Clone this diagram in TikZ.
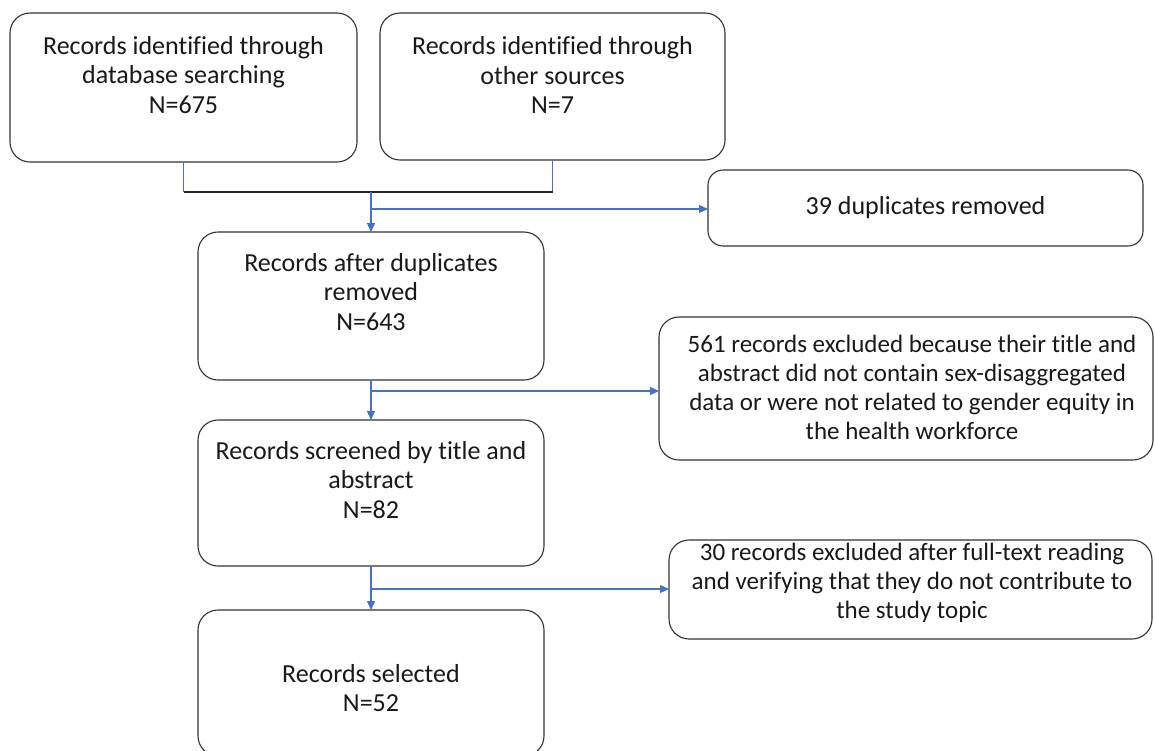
\documentclass[tikz,border=0pt]{standalone}
\usepackage{fontspec}
\setmainfont[Ligatures=NoCommon]{Carlito}
\usetikzlibrary{arrows.meta}
\definecolor{linkblue}{HTML}{4472C4}
\definecolor{boxline}{HTML}{333333}
\begin{document}
\begin{tikzpicture}[x=1pt,y=-1pt,
  box/.style={draw=boxline, line width=1.1pt, rounded corners=20pt, inner sep=0pt, outer sep=0pt},
  smallbox/.style={box, rounded corners=15pt},
  txt/.style={align=center, font=\fontsize{26}{29.5}\selectfont, inner sep=0pt, text=black!90},
  stxt/.style={txt, font=\fontsize{25}{29}\selectfont},
  conn/.style={draw=linkblue, line width=1.1pt},
  bar/.style={draw=black!85, line width=1.1pt},
  arr/.style={conn, -{Triangle[length=9pt,width=8pt]}}]
\useasboundingbox (0,0) rectangle (1155,750);
\clip (0,0) rectangle (1155,750);

% boxes
\node[box, minimum width=347pt, minimum height=149pt] (b1) at (183.5,87.5) {};
\node[box, minimum width=345pt, minimum height=147pt] (b2) at (552.5,86.5) {};
\node[smallbox, minimum width=435pt, minimum height=76pt] (d1) at (925.5,208) {};
\node[box, minimum width=346pt, minimum height=148pt] (b3) at (371,306) {};
\node[box, minimum width=494pt, minimum height=143pt] (d2) at (906,388.5) {};
\node[box, minimum width=346pt, minimum height=146pt] (b4) at (371,493) {};
\node[box, minimum width=483pt, minimum height=99pt] (d3) at (910.5,589.5) {};
\node[box, minimum width=346pt, minimum height=146pt] (b5) at (371,683) {};

% texts
\node[txt] (t1) at (183.5,75) {Records identified through\\database searching\\N=675};
\node[txt] (t2) at (552.5,75) {Records identified through\\other sources\\N=7};
\node[txt] (t3) at (925.5,208) {39 duplicates removed};
\node[txt] (t4) at (371,292) {Records after duplicates\\removed\\N=643};
\node[stxt] (t5) at (912,387) {561 records excluded because their title and\\abstract did not contain sex-disaggregated\\data or were not related to gender equity in\\the health workforce};
\node[txt] (t6) at (371,480) {Records screened by title and\\abstract\\N=82};
\node[stxt] (t7) at (912,583) {30 records excluded after full-text reading\\and verifying that they do not contribute to\\the study topic};
\node[txt] (t8) at (371,688) {Records selected\\N=52};

% junctions
\coordinate (j1) at (371,192);
\coordinate (j2) at (371,209);
\coordinate (j3) at (371,391);
\coordinate (j4) at (371,589);

% connectors
\draw[conn] (b1.south) -- (b1.south |- j1);
\draw[conn] (b2.south) -- (b2.south |- j1);
\draw[bar] (b1.south |- j1) -- (b2.south |- j1);
\draw[arr] (j1) -- (b3.north);
\draw[arr] (j2) -- (j2 -| d1.west);
\draw[arr] (b3.south) -- (b4.north);
\draw[arr] (j3) -- (j3 -| d2.west);
\draw[arr] (b4.south) -- (b5.north);
\draw[arr] (j4) -- (j4 -| d3.west);
\end{tikzpicture}
\end{document}
